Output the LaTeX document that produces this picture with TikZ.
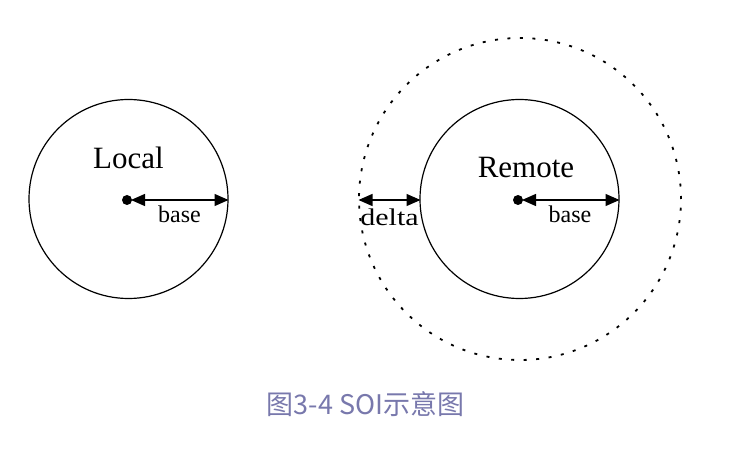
\documentclass[tikz,border=0pt]{standalone}
\usepackage{fontspec}
\setmainfont{Liberation Serif}
\newfontfamily\cjk{Noto Sans CJK SC}
\usetikzlibrary{arrows.meta}
\definecolor{capcol}{RGB}{120,120,172}
\begin{document}
\begin{tikzpicture}[x=1pt,y=-1pt,
  circ/.style={draw,line width=1.2pt,circle},
  dotc/.style={fill,circle,inner sep=0pt,minimum size=10pt},
  dim/.style={line width=1.3pt,{Triangle[length=14pt,width=12pt]}-{Triangle[length=14pt,width=12pt]}},
  lbl/.style={font=\fontsize{31}{31}\selectfont},
  small/.style={font=\fontsize{24}{24}\selectfont}]
\useasboundingbox (0,0) rectangle (742,454);
% left
\node[circ,minimum size=199pt] (L) at (128.5,199) {};
\node[dotc] (Lc) at (127,200) {};
\coordinate (Ls) at (131,200);
\coordinate (Le) at (228.5,200);
\draw[dim] (Ls) -- (Le);
\node[lbl] (Ltxt) at (128.5,158) {Local};
\node[small] (Lb) at (179.5,214) {base};
% right
\node[circ,minimum size=199pt] (R) at (519.5,199) {};
\node[draw,circle,line width=1.8pt,dash pattern=on 3pt off 9.5pt,minimum size=322pt] (D) at (520,199) {};
\node[dotc] (Rc) at (518,200) {};
\coordinate (Rs) at (522,200);
\coordinate (Re) at (619.5,200);
\draw[dim] (Rs) -- (Re);
\node[lbl] (Rtxt) at (526,168) {Remote};
\node[small] (Rb) at (570,214) {base};
\coordinate (Ds) at (358.5,200);
\coordinate (De) at (420.5,200);
\draw[dim] (Ds) -- (De);
\node[small] (Dl) at (389.5,217) {\scalebox{1.25}[1]{delta}};
% caption
\node[text=capcol,font=\cjk\fontsize{27}{27}\selectfont] (cap) at (365.5,404) {图3-4 SOI示意图};
\end{tikzpicture}
\end{document}
